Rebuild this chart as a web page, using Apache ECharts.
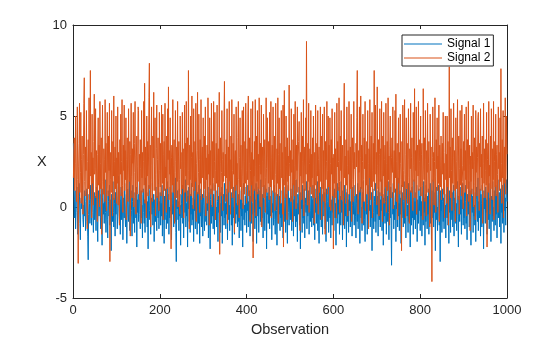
<!DOCTYPE html>
<html>
<head>
<meta charset="utf-8">
<script src="https://cdn.jsdelivr.net/npm/echarts@6/dist/echarts.min.js"></script>
<style>
  html, body { margin: 0; padding: 0; background: #fff; }
  #chart { width: 560px; height: 337px; }
</style>
</head>
<body>
<div id="chart"></div>
<script>
// Two noisy signals, 1000 observations each
const seriesNames = ['Signal 1', 'Signal 2'];
const xTicks = [0, 200, 400, 600, 800, 1000];
const yTicks = [-5, 0, 5, 10];

const signal1 = [
  3.5, 1.9, -0.6, 0.4, 0.9, -1.2, -0.3, 0.7, 1.1, -0.2, -1.5, -0.4, 0.3, 1.3, 0.6, -0.9, -1.8, 0.2, 0.5, -0.1, 0.8, 1.4, -0.7, -1.1, 0.1, -0.5, 0.9, 0.3, -1.3, -0.8, 0.6, 1.0, -0.2, -1.6, -2.9, -0.4, 0.7, 0.2, -0.9, 1.2, 0.4, -0.6, -1.0, 0.5, 1.6, -0.3, -1.4, 0.0, 0.8, -0.7,
  -0.2, 0.6, -1.3, 1.1, 0.3, -0.8, -1.9, 0.4, 0.9, -0.5, 0.1, 1.3, -0.6, -1.2, 0.7, -0.1, -2.1, 0.5, 1.0, -0.4, 0.2, -0.9, 0.8, 1.5, -0.3, -1.4, 0.0, 0.6, -0.7, -1.7, 0.9, 0.3, -0.5, 1.2, -1.0, -0.2, 0.4, -2.4, 0.7, 0.1, -0.8, 1.4, -0.3, -1.1, 0.5, 0.2, -1.6, 0.8, -0.4, 1.0,
  0.3, -1.2, -0.5, 0.9, 1.7, -0.1, -0.9, 0.4, -1.5, 0.6, 1.1, -0.7, -0.2, 0.8, -1.8, 0.2, 0.5, -0.6, 1.3, -0.3, -1.1, 0.0, 0.7, -2.0, 0.4, 1.0, -0.4, -0.8, 0.6, 1.5, -1.3, 0.1, -0.5, 0.9, -0.2, -1.6, 0.3, 1.2, -0.9, 0.5, -0.1, -1.4, 0.8, 0.2, -0.6, 1.1, -2.2, 0.4, -0.3, 0.7,
  -0.8, 0.5, 1.4, -0.4, -1.2, 0.2, 0.9, -0.6, 0.1, -1.7, 0.7, 1.0, -0.3, -0.9, 0.4, -1.4, 1.6, 0.0, -0.5, 0.8, -1.1, 0.3, -2.3, 0.6, 1.2, -0.2, -0.7, 0.9, -1.5, 0.1, 0.5, -0.4, 1.3, -1.0, -0.1, 0.7, -1.9, 0.4, 0.2, -0.8, 1.1, -0.5, -1.3, 0.6, 0.0, -0.6, 1.5, -1.2, 0.3, -0.2,
  0.8, -1.0, 0.2, -0.5, 1.2, -1.6, 0.4, 0.9, -0.3, -2.0, 0.6, -0.7, 1.0, 0.1, -1.2, -0.4, 1.4, -0.9, 0.3, 0.7, -1.5, 0.0, -0.6, 1.1, -0.2, 0.5, -1.8, 0.8, -0.4, 0.2, 1.3, -1.1, -0.3, 0.6, -0.8, 1.6, -1.4, -3.0, 0.4, -0.1, 0.9, -0.7, 0.3, -1.3, 1.0, -0.5, 0.1, -2.1, 0.7, 0.2,
  -0.6, 1.2, -0.9, 0.4, -1.7, 0.0, 0.8, -0.3, 1.5, -1.1, 0.2, -0.5, 0.9, -2.2, 0.6, -0.1, 1.1, -0.8, 0.3, -1.4, 0.7, -0.4, 1.3, -1.0, 0.1, -0.7, 0.5, -1.9, 1.0, -0.2, 0.4, -1.2, 1.6, -0.6, 0.2, -1.5, 0.8, -0.3, -0.9, 1.2, 0.0, -2.0, 0.6, -0.5, 1.0, -1.1, 0.3, 0.7, -1.6, 0.1,
  0.9, -0.4, -1.3, 0.5, 1.4, -0.8, 0.2, -1.0, 0.6, -0.2, 1.1, -1.7, 0.3, 0.8, -0.6, -2.3, 0.4, 1.0, -0.9, 0.1, -0.5, 1.3, -1.2, 0.7, -0.1, -1.5, 0.5, 1.2, -0.7, 0.0, -1.1, 0.9, 0.3, -1.9, 0.6, -0.3, 1.5, -0.8, 0.2, -1.4, 0.8, -0.5, 1.1, -2.0, 0.4, -0.2, 0.7, -1.0, 1.3, -0.6,
  0.2, -1.2, 0.7, -0.4, 1.0, -1.8, 0.3, 0.9, -0.7, 0.1, -1.3, 1.4, -0.2, 0.5, -1.0, 0.8, -2.1, 0.4, 1.1, -0.6, 0.0, -1.5, 0.6, 1.2, -0.9, 0.2, -0.4, 1.6, -1.1, 0.3, -0.8, 0.7, -1.7, 0.9, -0.1, 0.4, -1.3, 1.0, -0.5, 0.2, -2.2, 0.8, 1.3, -0.7, 0.1, -1.0, 0.6, -0.3, 1.1, -1.4,
  0.5, -0.2, 1.2, -1.1, 0.3, -0.7, 0.9, -1.6, 0.6, 0.0, -0.9, 1.4, -0.4, 0.2, -1.9, 0.7, -0.3, 1.0, -1.2, 0.4, -0.6, 1.3, -2.0, 0.1, 0.8, -0.5, 1.1, -1.4, 0.3, -0.1, 0.9, -0.8, 1.5, -1.0, 0.2, -0.6, 0.7, -1.7, 0.5, 1.2, -0.3, -1.3, 0.4, 0.0, 1.0, -2.3, 0.6, -0.4, 0.8, -0.9,
  0.3, 1.1, -1.2, 0.6, -0.5, 0.0, 1.4, -1.8, 0.2, -0.3, 0.9, -1.0, 0.5, 1.2, -0.7, -1.5, 0.4, 0.8, -0.2, -2.1, 0.7, 0.1, -0.9, 1.3, -0.4, 0.6, -1.3, 1.0, -0.6, 0.2, -1.1, 0.9, 0.3, -1.7, 1.5, -0.1, -0.8, 0.4, 1.1, -1.4, 0.0, 0.7, -0.5, -2.0, 0.8, 1.2, -0.3, -1.0, 0.5, 0.1,
  -0.7, 1.0, 0.3, -1.3, 0.6, -0.2, 1.3, -1.6, 0.4, -0.5, 0.9, 0.0, -1.1, 1.5, -0.8, 0.2, -1.9, 0.7, 0.4, -0.4, 1.1, -1.0, 0.3, -2.3, 0.8, -0.1, 0.6, -1.4, 1.2, -0.6, 0.1, -0.9, 1.0, -1.7, 0.5, 0.2, -0.3, 1.4, -1.2, 0.7, -0.5, 0.0, 0.9, -1.5, 0.3, 1.1, -0.8, -0.2, 0.6, -1.1,
  0.4, -0.6, 1.2, -1.0, 0.2, 0.8, -1.8, 0.5, -0.3, 1.0, -0.9, 0.1, 1.4, -1.3, 0.6, -0.4, -2.0, 0.9, 0.3, -0.7, 1.1, -1.1, 0.0, 0.7, -1.5, 0.4, 1.3, -0.5, -0.1, 0.8, -1.2, 0.2, -1.9, 1.0, 0.5, -0.8, 0.3, 1.5, -1.4, -0.2, 0.6, -0.6, 1.1, -1.7, 0.4, 0.0, -1.0, 0.9, -0.3, 0.7,
  -1.3, 0.5, 1.0, -0.6, 0.2, -2.1, 0.8, -0.1, 1.3, -0.9, 0.4, -0.4, 1.1, -1.5, 0.0, 0.6, -1.0, 1.4, -0.3, 0.3, -1.8, 0.9, -0.7, 0.1, 1.2, -1.2, 0.5, -0.5, 0.8, -2.2, 0.2, 1.0, -0.8, 0.4, -1.4, 0.7, -0.2, 1.5, -1.1, 0.3, -0.6, 0.9, -1.6, 0.1, 1.1, -0.4, 0.6, -1.0, 0.0, 1.2,
  -0.5, -1.7, 0.7, 0.2, -0.8, 1.3, -1.2, 0.4, -0.3, 0.9, -2.0, 0.6, 1.1, -0.6, 0.0, -1.3, 0.8, -0.1, 1.4, -1.0, 0.3, -0.7, -1.9, 1.0, 0.5, -0.4, 0.7, -1.5, 0.2, 1.2, -0.9, 0.4, -0.2, 1.6, -1.1, 0.1, -0.6, 0.8, -2.4, 0.5, 1.0, -0.3, -1.2, 0.6, 0.3, -0.8, 1.3, -1.4, 0.0, 0.9,
  -0.4, 0.6, -1.6, 1.1, 0.2, -0.7, 0.8, -1.1, 0.4, -0.2, 1.5, -1.3, 0.1, 0.7, -2.1, 0.5, -0.5, 1.0, -0.9, 0.3, 1.2, -1.5, 0.0, 0.6, -0.8, 1.4, -0.3, -1.8, 0.9, 0.2, -0.6, 1.1, -1.0, -3.2, 0.4, 0.8, -0.4, 1.3, -1.2, 0.1, -0.7, 0.5, 1.0, -1.9, 0.3, -0.1, 0.7, -1.1, 1.6, -0.5,
  0.2, -1.3, 0.9, -0.4, 0.5, -2.0, 1.2, -0.6, 0.0, 0.8, -1.1, 0.3, 1.4, -0.9, -0.2, 0.6, -1.7, 1.0, 0.4, -0.5, 0.1, -1.4, 1.3, -0.8, 0.7, -0.3, -2.2, 0.9, 0.2, -1.0, 1.1, -0.6, 0.5, -1.5, 0.0, 1.5, -0.7, 0.3, -1.2, 0.8, -0.4, 1.2, -1.9, 0.4, 0.1, -0.9, 1.0, -0.2, 0.6, -1.3,
  1.1, -0.5, 0.3, -1.6, 0.8, 0.0, -1.0, 1.4, -0.3, 0.5, -2.1, 0.7, -0.8, 1.2, 0.2, -1.2, 0.6, -0.4, 1.0, -1.5, 0.4, -0.1, 1.3, -0.9, 0.1, -1.8, 0.9, 0.3, -0.6, 1.5, -1.1, 0.2, -0.3, 0.8, -2.4, 0.5, 1.1, -0.7, 0.0, -1.3, 0.7, 1.2, -0.5, -1.0, 0.4, -3.0, 0.9, -0.2, 0.6, -1.4,
  0.3, 1.0, -0.8, 0.5, -1.2, 1.3, -0.4, 0.1, -1.7, 0.7, 0.2, -0.6, 1.1, -1.0, 0.4, -2.0, 0.9, -0.3, 0.6, -1.4, 1.5, 0.0, -0.7, 0.8, -1.1, 0.3, 1.2, -1.6, 0.5, -0.2, 1.0, -0.9, 0.2, -1.3, 0.7, 1.4, -0.5, -2.2, 0.6, 0.1, -0.8, 1.1, -0.4, 0.4, -1.5, 0.9, -0.1, 1.3, -1.0, 0.2,
  -0.6, 0.8, -1.2, 0.3, 1.2, -0.9, 0.0, -1.8, 0.7, 0.4, -0.4, 1.4, -1.1, 0.2, 0.9, -0.7, -2.1, 0.5, 1.0, -0.3, 0.6, -1.4, 1.3, -0.5, 0.1, -1.0, 0.8, -1.9, 0.4, 1.1, -0.2, -0.8, 1.6, -1.3, 0.3, 0.0, -0.6, 1.0, -1.6, 0.7, 0.2, -1.1, 1.2, -0.4, 0.5, -2.3, 0.9, -0.1, 0.6, -0.9,
  1.1, -0.3, 0.4, -1.5, 0.8, 0.1, -0.7, 1.3, -1.2, 0.5, -0.2, 1.0, -1.9, 0.6, 0.3, -0.8, 1.4, -0.5, 0.0, -1.3, 0.9, 0.2, -1.0, 1.2, -0.4, 0.7, -1.7, 0.4, 1.5, -0.6, -0.1, 0.8, -1.1, 0.3, 1.0, -2.0, 0.6, -0.3, 1.2, -0.9, 0.1, 0.7, -1.4, 1.6, -0.2, 0.5, -1.0, 0.9, 1.5, 0.3
];

const signal2 = [
  1.6, 3.2, 3.8, 0.9, 2.4, 5.0, 1.2, 0.3, 2.8, 5.5, 1.5, -3.1, 2.2, 3.5, 5.7, 0.8, 1.9, 5.2, 0.2, 2.6, 3.9, 1.1, -0.4, 2.9, 5.7, 7.1, 1.4, 0.6, 3.3, 2.0, 5.3, 0.7, -1.2, 2.5, 3.7, 1.0, 6.0, 0.4, 2.3, 7.5, 1.7, 3.0, -0.6, 5.1, 1.3, 2.7, 0.1, 3.6, 6.2, 1.8,
  2.1, 5.4, 0.5, 3.1, 1.6, -0.8, 2.9, 4.9, 1.2, 3.4, 0.0, 5.8, 2.4, 1.0, 3.8, -1.5, 2.2, 5.6, 1.4, 0.7, 3.2, 2.6, 0.3, 5.9, 1.9, 3.5, -0.2, 2.8, 5.2, 1.1, 0.6, 3.9, 2.0, 5.7, -3.0, 1.5, 3.0, 0.8, 5.3, 2.3, -0.5, 3.6, 1.7, 6.1, 0.4, 2.5, 3.3, 1.0, 5.0, 0.2,
  2.7, 1.3, 5.5, 0.1, 3.0, 2.2, -1.0, 3.7, 1.8, 5.1, 0.6, 2.5, 5.9, 1.2, -0.3, 3.4, 2.0, 5.6, 0.9, 3.1, 1.5, 4.9, -0.7, 2.6, 3.8, 1.0, 0.3, 5.4, 2.1, 1.4, 3.6, -1.6, 2.9, 5.7, 1.7, 0.5, 3.2, 2.4, 5.2, 0.0, 1.9, 3.5, 5.8, 1.1, -0.4, 2.8, 3.9, 0.7, 2.2, 5.5,
  5.3, 1.4, 2.9, 0.4, 3.7, 2.1, -0.9, 5.3, 1.6, 3.0, 0.8, 2.5, 5.8, 1.2, 6.8, 0.2, 3.3, 2.0, -0.6, 5.0, 1.7, 3.6, 0.6, 2.8, 6.0, 7.9, 1.0, 3.4, -1.1, 2.3, 5.5, 1.5, 0.3, 3.9, 2.7, 6.3, 0.9, 2.2, 4.9, -0.5, 1.8, 3.2, 5.6, 0.5, 2.6, 3.8, 1.3, -0.2, 5.2, 2.0,
  1.1, 3.5, 0.6, 5.6, 2.4, 1.3, 5.1, -0.7, 2.9, 3.6, 0.9, 5.7, 1.6, 2.2, -0.3, 3.9, 1.0, 5.4, 2.6, 6.6, 0.4, 3.1, 1.8, 4.9, 0.1, -2.3, 2.7, 3.4, 1.2, 5.9, 0.8, 2.3, 3.7, -0.9, 1.9, 5.3, 2.5, 0.5, 3.3, 1.4, 5.8, 0.0, 2.8, 3.6, 1.5, -0.4, 5.0, 2.1, 3.0, 0.7,
  2.5, 5.2, 1.0, 3.2, -0.6, 2.1, 5.6, 0.8, 3.5, 1.7, 5.8, 0.3, 2.9, 3.8, 1.2, 7.5, 2.0, -1.2, 3.4, 1.5, 5.0, 0.6, 2.7, 6.1, 1.1, 3.0, -0.1, 5.4, 2.2, 0.9, 3.6, 1.4, 5.7, -0.8, 2.4, 3.1, 6.3, 0.7, 1.9, 5.1, 2.6, -0.3, 3.7, 1.3, 5.9, 0.4, 2.8, 3.3, 1.6, 4.9,
  0.5, 2.3, 3.9, 1.0, 5.5, -0.5, 2.7, 1.5, 3.4, 0.2, 6.0, 1.8, 2.9, -1.0, 4.9, 1.2, 3.1, 0.7, 5.7, 2.2, 0.0, 3.6, 1.6, 5.8, 0.9, 2.5, 5.2, -0.7, 2.0, 3.5, 1.3, 5.6, 0.4, 2.8, 3.2, 1.1, 6.3, -2.6, 2.4, 3.8, 0.6, 1.9, 5.3, 2.6, -0.2, 3.0, 1.4, 5.0, 6.9, 1.7,
  2.9, 0.3, 3.7, 1.6, 5.4, -0.9, 2.2, 3.3, 0.8, 5.8, 1.4, 2.6, -0.4, 3.9, 1.0, 5.9, 2.0, 0.5, 3.5, 1.8, 5.1, -1.4, 2.8, 3.1, 0.9, 5.5, 1.2, 2.4, 0.1, 3.8, 5.8, 1.5, -0.6, 2.7, 4.9, 1.1, 3.4, 0.4, 2.1, 5.3, 1.7, -0.1, 5.5, 2.5, 0.7, 3.6, 1.3, 5.7, 2.0, 0.2,
  3.2, 1.5, 5.0, 6.1, 0.6, 2.4, 3.8, -0.8, 2.0, 5.4, 1.2, 3.0, 0.3, 5.8, -2.8, 2.6, 1.7, 3.6, 0.9, 5.9, 2.2, -0.5, 3.9, 1.4, 5.3, 0.7, 2.9, 1.0, 6.0, 2.3, 0.0, 3.5, 1.8, 5.6, -1.1, 2.5, 3.3, 1.1, 5.1, 0.5, 2.8, 3.7, -0.3, 1.6, 6.0, 2.1, 0.8, 4.9, 2.7, 1.3,
  3.6, 0.4, 5.2, 2.0, 1.1, 5.8, -0.6, 2.7, 3.4, 1.5, 5.5, 0.8, 2.3, 3.9, -0.2, 1.8, 5.7, 2.5, 0.6, 3.2, 1.3, 6.0, -0.9, 2.9, 4.9, 1.0, 3.5, 0.2, 2.1, 5.3, 1.6, 3.0, -0.4, 5.6, -2.2, 2.6, 6.4, 1.2, 3.3, 0.5, 5.0, 2.2, -0.7, 3.8, 1.4, 2.8, 0.9, 6.7, 2.4, 1.7,
  3.1, 0.3, 5.4, 1.9, 2.6, -0.8, 3.7, 1.2, 5.1, 0.6, 2.3, 5.8, 1.5, -0.1, 3.4, 2.0, 5.5, 0.8, 2.8, 3.6, 4.7, 1.0, -1.3, 3.0, 1.7, 5.2, 0.4, 2.5, 3.9, 1.3, 5.9, -0.5, 2.2, 3.3, 0.9, 4.9, 1.8, 9.1, 2.7, 0.1, 3.5, 1.4, 5.7, -0.3, 2.4, 3.2, 1.1, 5.3, 0.7, 2.9,
  1.6, 3.8, 0.5, 5.0, 2.3, -0.9, 3.0, 1.2, 5.6, 2.0, 0.2, 3.5, 1.7, 5.3, -0.4, 2.6, 3.3, 0.8, 2.1, 5.5, 1.4, 3.9, -0.7, 2.8, 5.1, 1.0, 3.1, 0.3, 5.5, 2.2, -1.5, 3.6, 1.5, 2.5, 5.8, 0.7, 2.0, 5.0, 1.1, 3.4, 0.0, 4.9, 2.4, -0.2, 3.7, 1.8, 5.4, 0.6, 2.7, -2.3,
  2.9, 1.3, 5.2, 0.5, 3.2, 1.9, -0.6, 5.7, 2.2, 3.6, 0.9, 2.5, 6.0, 1.4, -0.3, 3.9, 2.0, 5.3, 0.4, 2.7, 3.4, 1.1, -1.0, 5.0, 6.8, 1.6, 2.8, 0.2, 3.7, 1.2, 5.5, 2.3, -0.5, 3.1, 1.8, 5.8, 0.7, 2.6, 3.3, 1.0, 5.1, -0.8, 2.4, 3.8, 1.5, 0.3, 5.8, 2.1, 3.0, 1.7,
  0.6, 3.5, 2.2, 4.9, 7.5, 1.3, -0.4, 3.1, 1.9, 5.5, 0.8, 2.7, 6.1, 1.0, 3.4, -0.9, 2.5, 5.1, 1.5, 0.3, 3.8, 2.1, 5.8, -0.2, 2.9, 1.2, 3.6, 0.7, 5.3, 2.4, -1.2, 3.2, 1.6, 5.9, 0.4, 2.8, 3.9, 1.1, 5.2, -0.6, 2.0, 3.5, 1.4, 7.5, 0.9, 2.6, 5.6, 1.8, 3.0, 0.1,
  6.6, 2.3, 1.0, 3.7, -0.5, 2.9, 5.4, 1.4, 3.2, 0.6, 5.8, 2.0, -0.8, 3.9, 1.7, 5.2, 0.2, 2.6, 3.4, 1.1, 5.7, -0.3, 2.4, 3.6, 0.9, 6.0, 1.5, 2.8, -1.0, 3.3, 5.0, 1.2, 0.5, 2.7, 3.8, 1.9, 5.5, -0.1, 2.2, 3.1, 0.8, 5.3, 1.6, 6.2, 0.3, 2.5, 3.5, -0.7, 2.0, 4.9,
  1.3, 3.0, 0.7, 5.1, 2.4, 1.5, -2.4, 3.6, 1.1, 5.6, 2.0, 0.4, 3.3, 5.9, 1.8, -0.6, 2.9, 4.9, 1.0, 3.5, 0.2, 2.6, 5.4, 1.6, -0.9, 3.2, 2.1, 5.7, 0.8, 2.7, 3.8, 1.2, -0.2, 5.2, 2.3, 1.4, 6.5, 0.5, 3.1, 2.0, 5.5, -0.4, 2.8, 3.4, 1.7, 5.8, 0.9, 2.5, 3.7, 1.1,
  5.0, 0.6, 2.9, 3.5, 1.2, -0.7, 6.5, 2.2, 1.5, 3.8, 0.3, 5.3, 2.6, -0.5, 3.1, 1.9, 5.7, 0.8, 2.4, 3.6, 1.0, -1.1, 5.1, 2.0, 3.3, 0.5, -4.1, 2.7, 5.5, 1.4, 3.0, 0.1, 2.5, 6.0, 1.7, -0.3, 3.7, 2.1, 4.9, 0.9, 2.8, 1.3, 5.6, -0.8, 3.4, 2.3, 1.1, 3.9, 0.4, 2.6,
  3.5, 1.8, 5.2, 0.7, 2.4, -0.6, 3.0, 5.0, 1.5, 2.9, 0.2, 5.0, 1.1, 3.6, -1.0, 2.2, 7.7, 1.6, 3.3, 0.5, 5.4, 2.0, -0.2, 3.8, 1.3, 2.7, 5.7, 0.9, 3.1, 1.7, -0.8, 4.9, 2.5, 1.0, 3.4, 5.9, 0.4, 2.8, 3.9, -0.4, 2.1, 5.3, 1.2, 3.2, 0.6, 5.6, 2.3, 1.4, -0.1, 3.6,
  2.0, 5.1, 0.8, 3.1, 1.5, 5.5, -0.5, 2.6, 3.7, 1.0, 5.8, 0.3, 2.3, 3.4, -1.3, 2.8, 1.4, 5.0, 0.7, 3.0, 2.1, 5.6, 0.0, 2.5, 3.8, 1.2, -0.7, 5.3, 1.9, 3.3, 0.6, 2.7, 4.9, 5.2, 1.1, -0.2, 3.5, 2.2, 5.4, 0.9, 2.9, 1.6, 3.9, -0.9, 2.4, 5.7, 1.3, 3.2, 0.5, 2.0,
  3.7, 1.2, 5.2, -2.2, 2.6, 3.5, 0.8, 5.8, 1.7, 2.3, -0.4, 3.9, 1.0, 5.4, 2.8, 0.4, 3.2, 1.5, 5.8, -0.7, 2.5, 3.6, 1.1, 5.1, 0.6, 2.9, 3.4, 1.8, -0.3, 5.5, 2.1, 3.0, 0.9, 4.9, 1.4, 7.6, 2.4, 0.2, 3.7, 1.6, 5.3, -0.6, 2.7, 3.3, 1.3, 6.0, 0.7, 2.2, 5.0, 2.9
];

const colors = ['#0072BD', '#D95319'];
const ink = '#262626';
const fontFamily = '"Liberation Sans", Arial, Helvetica, sans-serif';

// Observation numbers run from 1 to N
const toPairs = arr => arr.map((v, i) => [i + 1, v]);

const chart = echarts.init(document.getElementById('chart'), null, { renderer: 'canvas' });

const axisLine = { show: true, onZero: false, lineStyle: { color: ink, width: 1 } };
const tickIn = { show: true, inside: true, length: 4, lineStyle: { color: ink, width: 1 } };
const plainNumber = v => String(v);

chart.setOption({
  animation: false,
  backgroundColor: '#ffffff',
  textStyle: { fontFamily },
  grid: { left: 73, right: 53, top: 25, bottom: 39, containLabel: false, outerBoundsMode: 'none' },
  legend: {
    data: seriesNames,
    orient: 'vertical',
    left: 402,
    top: 35,
    icon: 'rect',
    itemWidth: 38,
    itemHeight: 1.2,
    itemGap: 2,
    padding: [3, 3, 2, 2],
    borderColor: ink,
    borderWidth: 1,
    borderRadius: 0,
    backgroundColor: '#ffffff',
    textStyle: { color: '#000000', fontSize: 12, fontFamily }
  },
  xAxis: [
    {
      type: 'value', position: 'bottom', min: xTicks[0], max: xTicks[xTicks.length - 1], interval: 200,
      name: 'Observation', nameLocation: 'middle', nameGap: 24,
      nameTextStyle: { color: ink, fontSize: 14.5, fontFamily },
      axisLine, axisTick: tickIn,
      axisLabel: { color: ink, fontSize: 13, margin: 6, fontFamily, formatter: plainNumber },
      splitLine: { show: false }
    },
    {
      type: 'value', position: 'top', min: xTicks[0], max: xTicks[xTicks.length - 1], interval: 200,
      axisLine, axisTick: tickIn, axisLabel: { show: false }, splitLine: { show: false }
    }
  ],
  yAxis: [
    {
      type: 'value', position: 'left', min: yTicks[0], max: yTicks[yTicks.length - 1], interval: 5,
      name: 'X', nameLocation: 'middle', nameRotate: 0, nameGap: 19,
      nameTextStyle: { color: ink, fontSize: 14.5, fontFamily },
      axisLine, axisTick: tickIn,
      axisLabel: { color: ink, fontSize: 13, margin: 6, fontFamily, formatter: plainNumber },
      splitLine: { show: false }
    },
    {
      type: 'value', position: 'right', min: yTicks[0], max: yTicks[yTicks.length - 1], interval: 5,
      axisLine, axisTick: tickIn, axisLabel: { show: false }, splitLine: { show: false }
    }
  ],
  series: [
    {
      name: seriesNames[0], type: 'line', data: toPairs(signal1),
      showSymbol: false, symbol: 'none', sampling: null,
      lineStyle: { color: colors[0], width: 1 }, itemStyle: { color: colors[0] }
    },
    {
      name: seriesNames[1], type: 'line', data: toPairs(signal2),
      showSymbol: false, symbol: 'none', sampling: null,
      lineStyle: { color: colors[1], width: 1 }, itemStyle: { color: colors[1] }
    }
  ]
});
</script>
</body>
</html>
